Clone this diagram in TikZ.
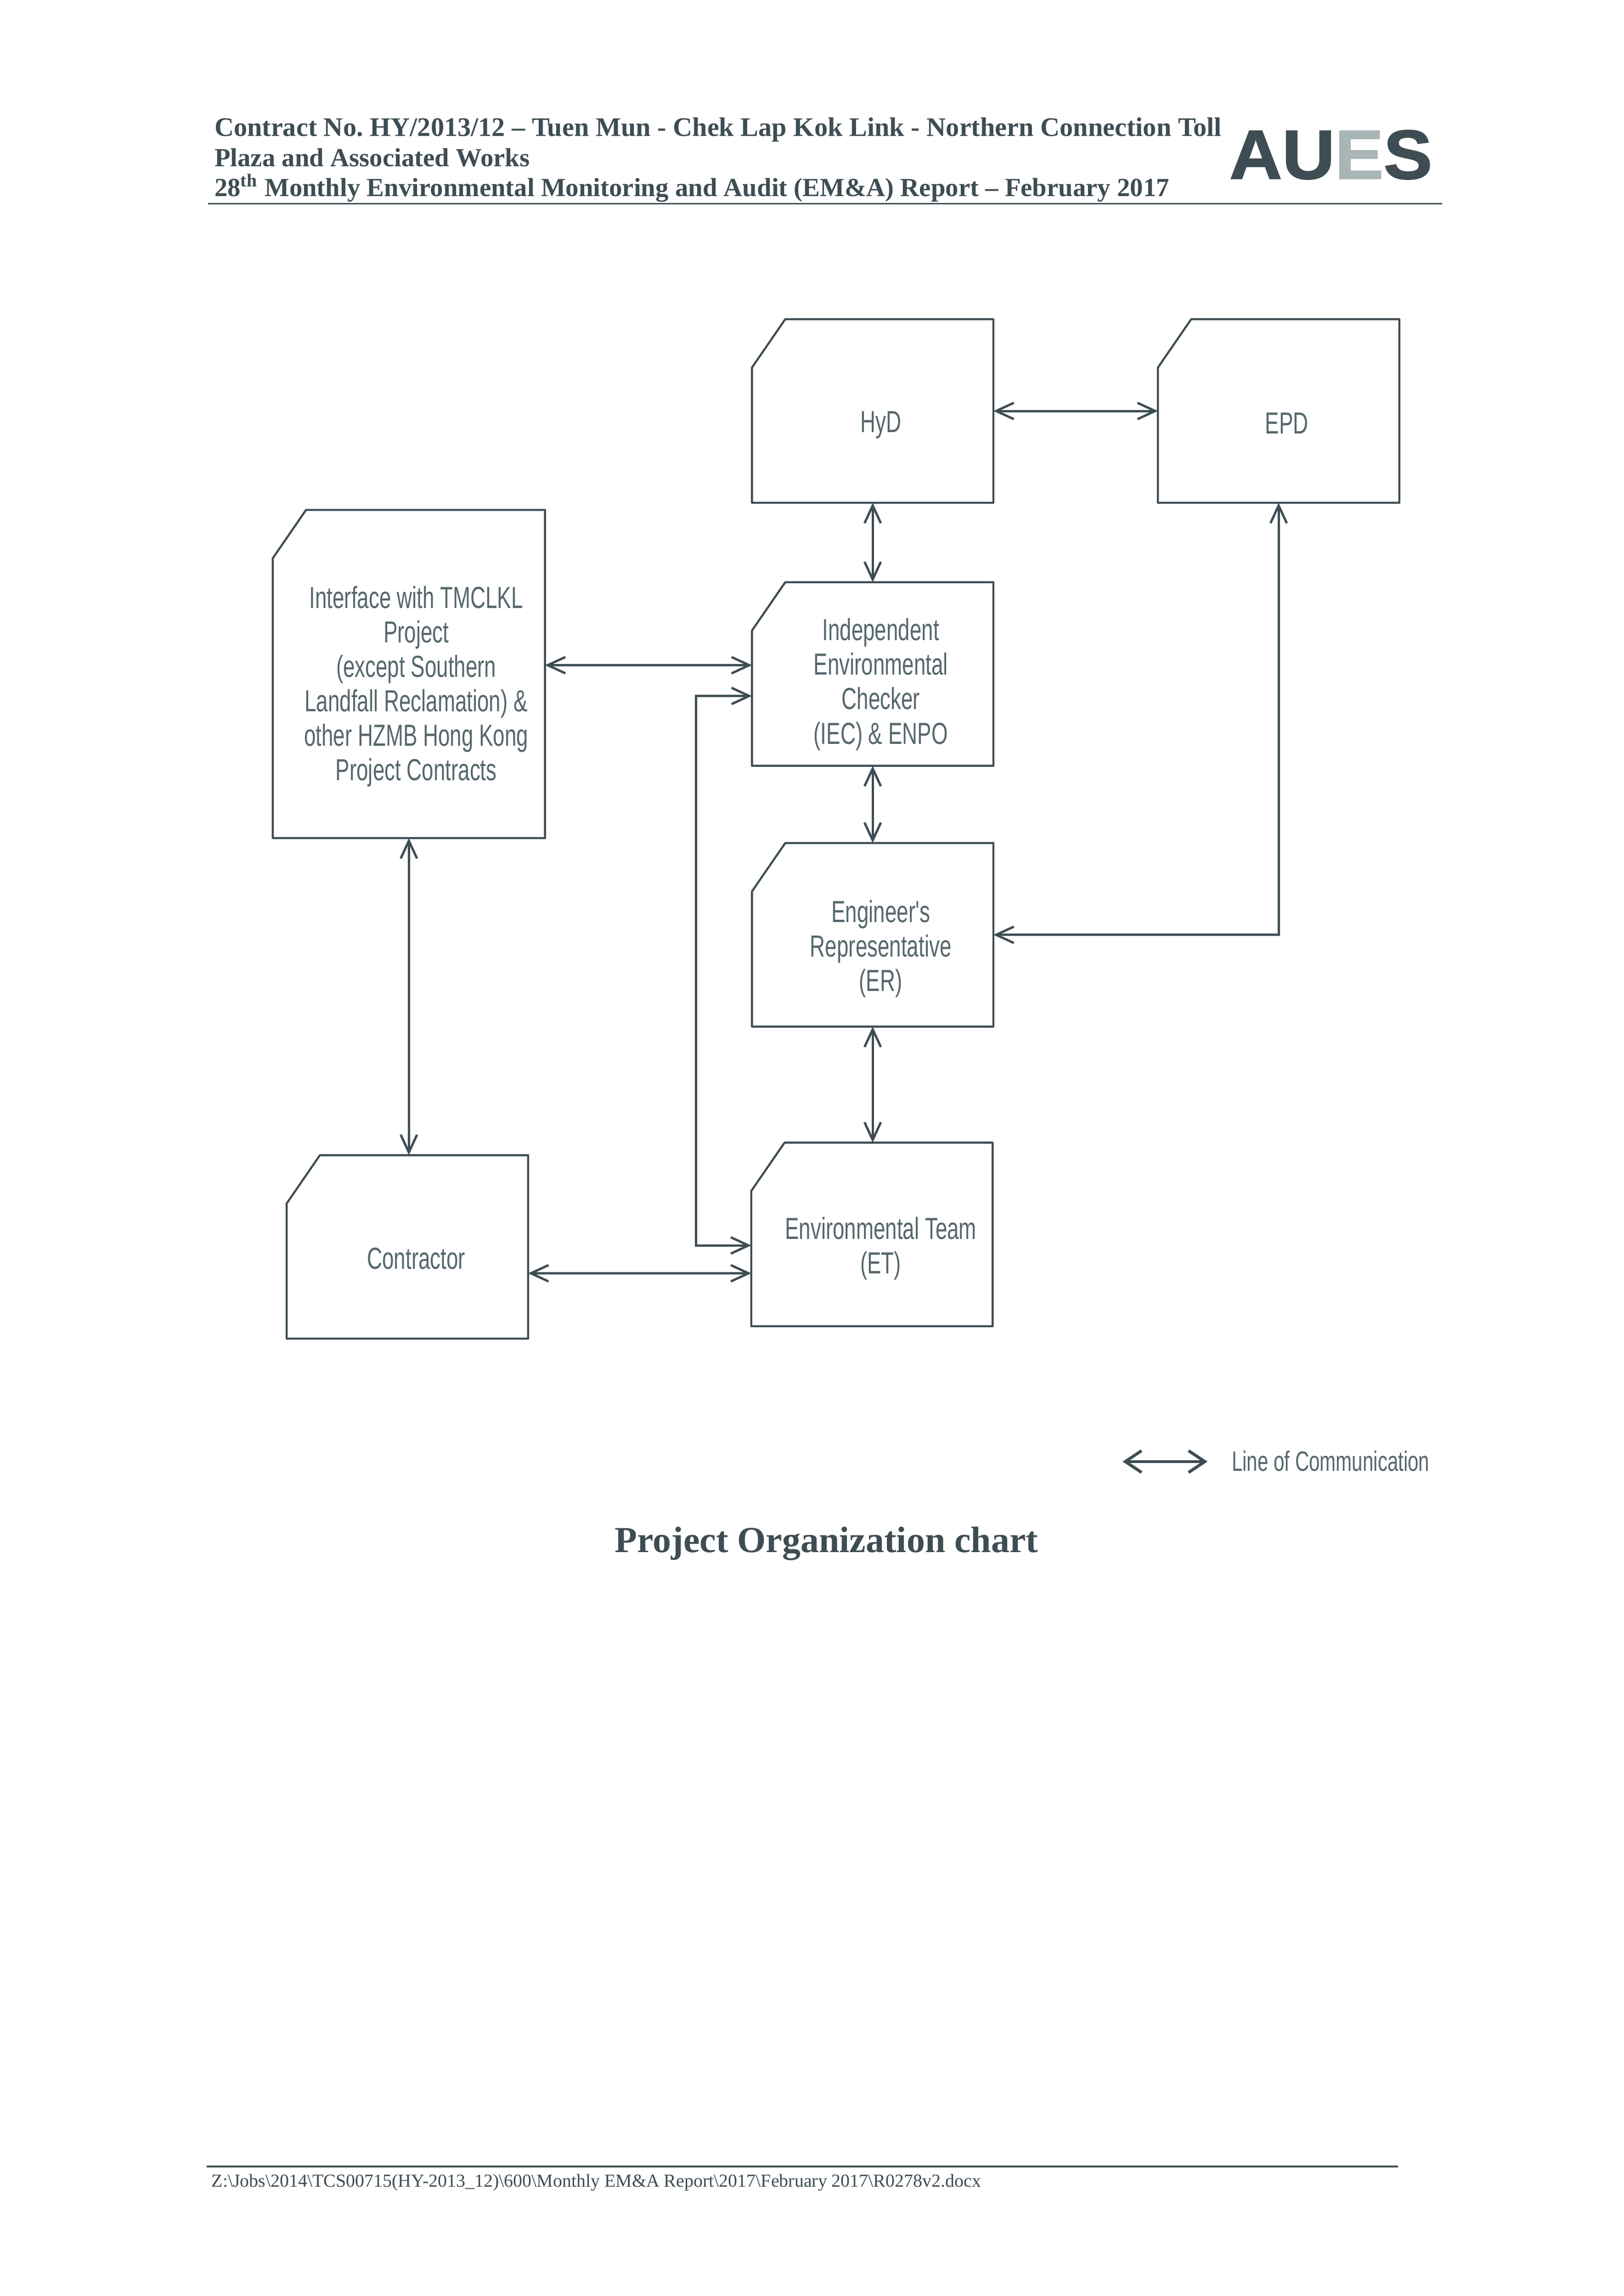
\documentclass[tikz,border=0pt]{standalone}
\usepackage{fontspec}
\setmainfont{Liberation Serif}
\newfontfamily\chartfont[FakeStretch=0.69]{Liberation Sans}
\newfontfamily\logofont[FakeStretch=1.05,BoldFeatures={FakeBold=1.5}]{Liberation Sans}
\usetikzlibrary{arrows.meta}
\definecolor{scanink}{HTML}{3E4D53}
\definecolor{chartink}{HTML}{56676C}
\definecolor{logolight}{HTML}{A9B6B6}
\tikzset{
  cardbox/.style={minimum width=3.108cm,minimum height=2.36cm,inner sep=0pt,
    append after command={\pgfextra{\draw[draw=scanink,line width=0.75pt,line join=round]
      ([xshift=0.43cm]\tikzlastnode.north west) -- (\tikzlastnode.north east)
      -- (\tikzlastnode.south east) -- (\tikzlastnode.south west)
      -- ([yshift=-0.625cm]\tikzlastnode.north west) -- cycle;}}},
  cardtext/.style={text=chartink,font=\chartfont\fontsize{11.2}{12.7}\selectfont,align=center,inner sep=0pt},
  commline/.style={draw=scanink,line width=0.85pt,{Straight Barb[length=6.5pt,width=6pt]}-{Straight Barb[length=6.5pt,width=6pt]}},
  legendline/.style={draw=scanink,line width=1.1pt,{Straight Barb[length=6pt,width=8pt]}-{Straight Barb[length=6pt,width=8pt]}},
  headtext/.style={text=scanink,font=\bfseries\fontsize{9.6}{11}\selectfont,anchor=base west,inner sep=0pt},
  ruleline/.style={draw=scanink,line width=0.65pt}
}
\begin{document}
\begin{tikzpicture}[x=0.01895cm,y=-0.01895cm]
\useasboundingbox (0,0) rectangle (1108,1567);

% page header
\node[headtext,font=\bfseries\fontsize{9.85}{11}\selectfont] (headone) at (146,93) {Contract No.\ HY/2013/12 -- Tuen Mun - Chek Lap Kok Link - Northern Connection Toll};
\node[headtext] (headtwo) at (146,113.5) {Plaza and Associated Works};
\node[headtext] (headthree) at (146,134) {28\textsuperscript{th} Monthly Environmental Monitoring and Audit (EM\&A) Report -- February 2017};
\node[text=scanink,font=\logofont\bfseries\fontsize{25.6}{26}\selectfont,anchor=base west,inner sep=0pt] (logo) at (838.5,122) {AU\textcolor{logolight}{E}S};
\coordinate (headruleleft) at (142,139);
\coordinate (headruleright) at (984,139);
\draw[ruleline] (headruleleft) -- (headruleright);

% boxes
\node[cardbox] (hyd) at (595.5,280.5) {};
\node[cardbox] (epd) at (872.5,280.5) {};
\node[cardbox,minimum width=3.506cm,minimum height=4.23cm] (iface) at (279,460) {};
\node[cardbox] (iec) at (595.5,460) {};
\node[cardbox] (er) at (595.5,638) {};
\node[cardbox] (et) at (595,842.5) {};
\node[cardbox] (contractor) at (278,851) {};

% box texts
\node[cardtext] (hydtext) at (601,290) {HyD};
\node[cardtext] (epdtext) at (878,289) {EPD};
\node[cardtext] (ifacetext) at (284,468.5) {Interface with TMCLKL\\Project\\(except Southern\\Landfall Reclamation) \&\\other HZMB Hong Kong\\Project Contracts};
\node[cardtext] (iectext) at (601,467) {Independent\\Environmental\\Checker\\(IEC) \& ENPO};
\node[cardtext] (ertext) at (601,647.5) {Engineer's\\Representative\\(ER)};
\node[cardtext] (ettext) at (601,852) {Environmental Team\\(ET)};
\node[cardtext] (contractortext) at (284,859) {Contractor};

% connectors
\coordinate (busline) at (475,660);
\draw[commline] (hyd.east) -- (epd.west);
\draw[commline] (hyd.south) -- (iec.north);
\draw[commline] (iec.south) -- (er.north);
\draw[commline] (er.south) -- (er.south |- et.north);
\draw[commline] (er.east) -| (epd.south);
\draw[commline] ([yshift=0.114cm]iface.east) -- ([yshift=0.114cm]iec.west);
\draw[commline] ([yshift=-0.284cm]iec.west) -| (busline) |- ([yshift=-0.142cm]et.west);
\draw[commline] ([yshift=-0.341cm]contractor.east) -- ([yshift=-0.502cm]et.west);
\draw[commline] (iface.south) -- (iface.south |- contractor.north);

% legend
\coordinate (legendleft) at (766,997.5);
\coordinate (legendright) at (824,997.5);
\draw[legendline] (legendleft) -- (legendright);
\node[cardtext,font=\chartfont\fontsize{10.3}{12}\selectfont] (legendtext) at (908,997) {Line of Communication};

% caption and footer
\node[text=scanink,font=\bfseries\fontsize{13.5}{16}\selectfont,inner sep=0pt] (caption) at (564,1053.5) {Project Organization chart};
\coordinate (footruleleft) at (141,1478.5);
\coordinate (footruleright) at (954,1478.5);
\draw[ruleline] (footruleleft) -- (footruleright);
\node[text=scanink,font=\fontsize{6.75}{8}\selectfont,anchor=base west,inner sep=0pt] (footer) at (144,1492.4) {Z:\textbackslash Jobs\textbackslash 2014\textbackslash TCS00715(HY-2013\_12)\textbackslash 600\textbackslash Monthly EM\&A Report\textbackslash 2017\textbackslash February 2017\textbackslash R0278v2.docx};
\end{tikzpicture}
\end{document}
